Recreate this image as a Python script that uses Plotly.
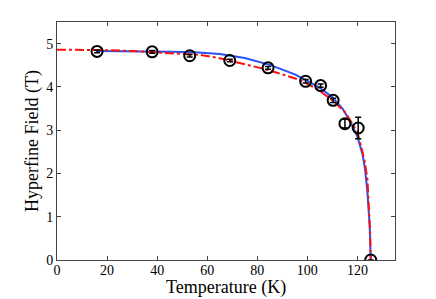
import plotly.graph_objects as go

# Measured data
temp_K = [16, 38, 53, 69, 84.3, 99.3, 105.3, 110.3, 115, 120.3, 125.3]
field_T = [4.82, 4.81, 4.72, 4.61, 4.44, 4.13, 4.03, 3.69, 3.15, 3.05, 0.0]
field_err = [0.03, 0.03, 0.03, 0.03, 0.03, 0.04, 0.04, 0.05, 0.10, 0.25, 0.0]

# Fit curve 1 (blue, solid)
fit1_T = [16, 25, 35, 45, 55, 65, 75, 85, 95, 100, 105, 110, 114, 117, 120,
          122, 123, 124, 124.9, 125.3]
fit1_B = [4.83, 4.83, 4.82, 4.81, 4.80, 4.76, 4.67, 4.51, 4.29, 4.14, 3.98,
          3.76, 3.50, 3.22, 2.85, 2.45, 2.12, 1.55, 0.77, 0.0]

# Fit curve 2 (red, dash-dot)
fit2_T = [0, 10, 20, 30, 40, 50, 57, 64.5, 73, 81, 89, 97, 104, 110.7, 115.3,
          118, 120, 121.5, 123, 124, 124.7, 125.1, 125.3]
fit2_B = [4.86, 4.86, 4.85, 4.83, 4.80, 4.77, 4.74, 4.67, 4.56, 4.44, 4.31,
          4.16, 3.95, 3.66, 3.40, 3.14, 2.95, 2.62, 2.25, 1.85, 1.20, 0.60, 0.0]

x_ticks = [0, 20, 40, 60, 80, 100, 120]
y_ticks = [0, 1, 2, 3, 4, 5]

fig = go.Figure()
fig.add_trace(go.Scatter(x=fit1_T, y=fit1_B, mode="lines",
                         line=dict(color="#2a52f0", width=2), showlegend=False))
fig.add_trace(go.Scatter(x=fit2_T, y=fit2_B, mode="lines",
                         line=dict(color="#ff1010", width=2, dash="dashdot"),
                         showlegend=False))
fig.add_trace(go.Scatter(
    x=temp_K, y=field_T, mode="markers",
    marker=dict(symbol="circle-open", size=11, color="black",
                line=dict(color="black", width=2)),
    error_y=dict(type="data", array=field_err, color="black",
                 thickness=1.5, width=3),
    showlegend=False))

font_family = "Liberation Serif, Times New Roman, serif"
fig.update_layout(
    width=436, height=299,
    margin=dict(l=57, r=41, t=22, b=39, autoexpand=False),
    paper_bgcolor="white", plot_bgcolor="white",
    font=dict(family=font_family, color="black", size=14),
    xaxis=dict(range=[0, 135], tickvals=x_ticks, ticks="inside", ticklen=4,
               tickcolor="#444", showline=True, linecolor="#444", linewidth=1,
               mirror="ticks", showgrid=False, zeroline=False,
               ticklabelstandoff=-3,
               automargin=False, tickfont=dict(size=14)),
    yaxis=dict(range=[0, 5.5], tickvals=y_ticks, ticks="inside", ticklen=4,
               tickcolor="#444", showline=True, linecolor="#444", linewidth=1,
               mirror="ticks", showgrid=False, zeroline=True,
               zerolinecolor="black", zerolinewidth=1.5,
               automargin=False, tickfont=dict(size=14)),
    annotations=[
        dict(text="Temperature (K)", xref="paper", yref="paper",
             x=0.5, y=-0.116, xanchor="center", yanchor="middle",
             showarrow=False, font=dict(size=18)),
        dict(text="Hyperfine Field (T)", xref="paper", yref="paper",
             x=-0.074, y=0.5, xanchor="center", yanchor="middle",
             textangle=-90, showarrow=False, font=dict(size=18)),
    ],
)

fig.write_html("out.html",
               config={"displayModeBar": False},
               post_script="document.body.style.margin='0';"
                           "document.body.style.overflow='hidden';")
